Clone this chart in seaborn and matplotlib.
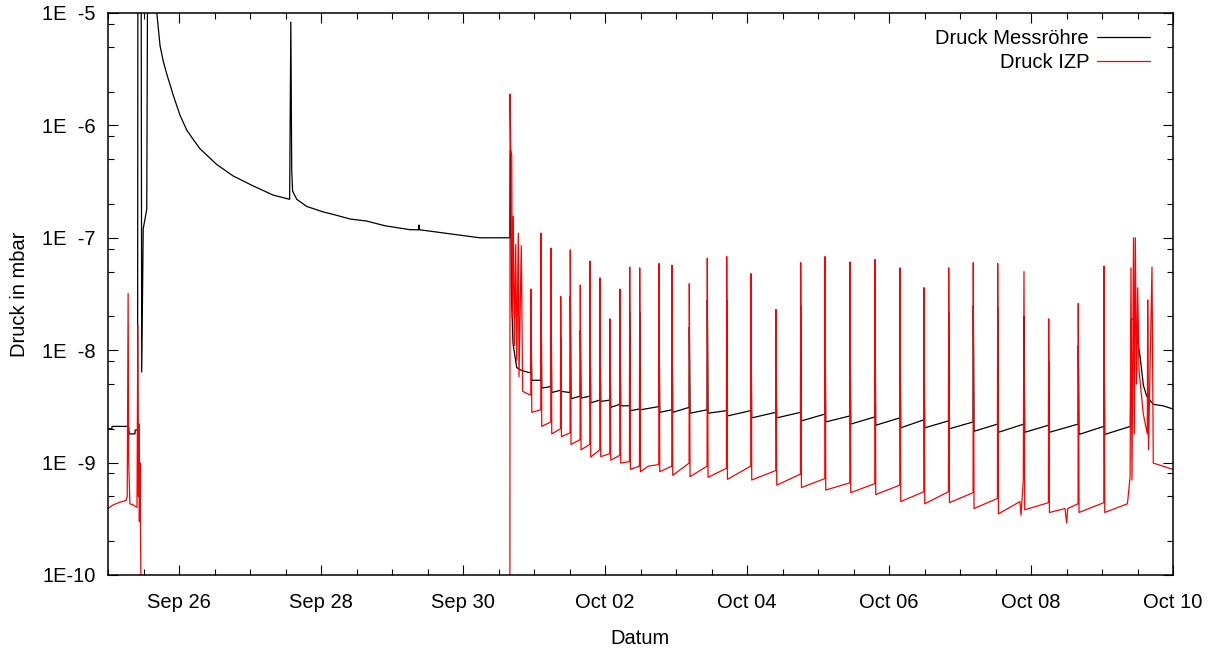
import numpy as np
import pandas as pd
import matplotlib
matplotlib.use("Agg")
import matplotlib.pyplot as plt
import matplotlib.dates as mdates
import matplotlib.ticker as mticker
import seaborn as sns

# ---------------- data (hours since Sep 25 00:00, pressure in mbar) ----------------
start_date = "2015-09-25 00:00"

black_hours = [
    0.0, 1.3, 1.4, 6.9, 7.2, 9.1, 9.2, 10.0, 10.1, 11.2, 11.4, 11.9, 13.1, 13.4,
    16.5, 17.6, 18.7, 19.8, 22.1, 24.3, 26.6, 28.8, 31.1, 36.7, 42.3, 49.0, 55.8,
    61.4, 61.8, 62.1, 62.4, 63.8, 67.2, 72.7, 76.7, 81.8, 87.4, 93.6, 102.1, 105.0,
    105.1, 105.2, 115.0, 125.7, 135.8, 136.0, 136.4, 136.9, 138.15, 139.84, 142.65,
    142.94, 143.0, 143.25, 146.31, 146.37, 146.62, 149.69, 149.75, 150.0, 152.97,
    153.03, 153.28, 156.21, 156.27, 156.52, 159.59, 159.65, 159.9, 162.87, 162.93,
    163.18, 166.25, 166.31, 166.56, 169.63, 169.69, 169.94, 173.01, 173.07, 173.32,
    176.29, 176.35, 176.6, 179.67, 179.73, 179.98, 186.2, 186.26, 186.51, 190.59,
    190.65, 190.9, 196.44, 196.5, 196.75, 202.52, 202.58, 202.83, 209.08, 209.14,
    209.39, 217.29, 217.35, 217.6, 225.74, 225.8, 226.05, 234.09, 234.15, 234.4,
    242.31, 242.37, 242.62, 250.76, 250.82, 251.07, 259.21, 259.27, 259.52, 267.66,
    267.72, 267.97, 275.77, 275.83, 276.08, 284.12, 284.18, 284.43, 292.43, 292.49,
    292.74, 300.68, 300.74, 300.99, 309.57, 309.63, 309.88, 317.92, 317.98, 318.23,
    327.92, 327.98, 328.23, 336.62, 336.68, 336.93, 345.6, 345.8, 346.7, 347.6,
    348.9, 349.97, 351.1, 353.34, 356.62, 360.0,
]
black_mbar = [
    2.0e-9, 2.0e-9, 2.1e-9, 2.1e-9, 1.8e-9, 1.8e-9, 1.95e-9, 1.95e-9, 3e-5, 3e-5,
    6.4e-9, 1.2e-7, 1.8e-7, 3e-5, 1.0e-5, 5.1e-6, 3.7e-6, 2.9e-6, 1.84e-6, 1.24e-6,
    9.1e-7, 7.5e-7, 6.2e-7, 4.5e-7, 3.55e-7, 2.9e-7, 2.4e-7, 2.2e-7, 8.3e-6, 4e-7,
    2.6e-7, 2.2e-7, 1.9e-7, 1.7e-7, 1.6e-7, 1.47e-7, 1.41e-7, 1.28e-7, 1.18e-7,
    1.18e-7, 1.3e-7, 1.18e-7, 1.09e-7, 1.0e-7, 1.0e-7, 6e-7, 3e-8, 1.15e-8, 7.0e-9,
    6.6e-9, 6.3e-9,
    6.3e-9, 1.5e-8, 5.4e-9, 5.4e-9, 4e-8, 4.6e-9, 4.75e-9, 3e-8, 4.2e-9, 4.4e-9,
    1.3e-8, 4.3e-9, 4.2e-9, 3e-8, 3.7e-9, 3.9e-9, 1.5e-8, 3.75e-9, 3.9e-9, 2.5e-8,
    3.4e-9, 3.6e-9, 1.8e-8, 3.5e-9, 3.6e-9, 9e-9, 3.1e-9, 3.3e-9, 1.5e-8, 3.2e-9,
    3.2e-9, 2.2e-8, 2.9e-9, 3.0e-9, 2.2e-8, 2.95e-9, 3.15e-9, 2.4e-8, 2.8e-9, 2.95e-9,
    2.4e-8, 2.8e-9, 3.1e-9, 1.6e-8, 2.75e-9, 2.95e-9, 2.8e-8, 2.75e-9, 2.9e-9, 2.8e-8,
    2.6e-9, 2.9e-9, 2e-8, 2.5e-9, 2.8e-9, 1e-8, 2.5e-9, 2.8e-9, 2.5e-8, 2.35e-9,
    2.7e-9, 2.8e-8, 2.3e-9, 2.6e-9, 2.5e-8, 2.2e-9, 2.55e-9, 2.6e-8, 2.15e-9, 2.5e-9,
    2.2e-8, 2.04e-9, 2.4e-9, 1.5e-8, 2.04e-9, 2.35e-9, 2.2e-8, 2.0e-9, 2.3e-9, 2.5e-8,
    1.9e-9, 2.2e-9, 2.4e-8, 1.86e-9, 2.2e-9, 2e-8, 1.86e-9, 2.15e-9, 8e-9, 1.86e-9,
    2.2e-9, 1.1e-8, 1.78e-9, 2.1e-9, 2.3e-8, 1.78e-9, 2.1e-9, 1.9e-8, 1.9e-8, 1.4e-8,
    8.7e-9, 4.9e-9, 3.9e-9, 3.3e-9, 3.2e-9, 3.0e-9,
]

red_hours = [
    0.0, 1.7, 4.1, 6.1, 6.5, 6.8, 7.0, 7.4, 8.5, 9.8, 10.1, 10.3, 10.5, 10.6, 10.8,
    11.0, 11.2, 135.85, 135.9, 136.13, 136.47, 136.67, 137.0, 137.35, 137.82, 138.15,
    138.7, 138.93, 139.7, 140.17, 142.65, 142.92,
    143.0, 143.25, 146.29, 146.37, 146.62, 149.67, 149.75, 150.0, 152.95, 153.03,
    153.28, 156.19, 156.27, 156.52, 159.57, 159.65, 159.9, 162.85, 162.93, 163.18,
    166.23, 166.31, 166.56, 169.61, 169.69, 169.94, 172.99, 173.07, 173.32, 176.27,
    176.35, 176.6, 179.65, 179.73, 179.98, 182.64, 186.18, 186.26, 186.51, 190.57,
    190.65, 190.9, 196.42, 196.5, 196.75, 202.5, 202.58, 202.83, 209.06, 209.14,
    209.39, 217.27, 217.35, 217.6, 225.72, 225.8, 226.05, 234.07, 234.15, 234.4,
    242.29, 242.37, 242.62, 250.74, 250.82, 251.07, 259.19, 259.27, 259.52, 267.64,
    267.72, 267.97, 275.75, 275.83, 276.08, 284.1, 284.18, 284.43, 292.41, 292.49,
    292.74, 300.66, 300.74, 300.99, 308.28, 308.62, 309.4, 309.63, 309.88, 317.9,
    317.98, 318.23, 323.49, 324.06, 324.4, 327.9, 327.98, 328.23, 336.6, 336.68,
    336.93, 344.6, 345.5, 345.8, 346.14, 346.65, 346.92, 347.26, 347.67, 348.07,
    348.51, 349.97, 351.32, 351.45, 351.72, 352.9, 353.34, 356.62, 360.0,
]
red_mbar = [
    3.9e-10, 4.2e-10, 4.45e-10, 4.6e-10, 5.0e-10, 3.2e-8, 1.0e-9, 4.3e-10, 4.2e-10,
    4.0e-10, 1.66e-8, 5.0e-10, 2.2e-9, 3.0e-10, 1.0e-9, 2.5e-10, 5e-11, 5e-11, 1.9e-6,
    6.2e-7, 5.4e-7, 1.95e-8, 1.55e-7, 1.1e-8, 8.7e-8, 8.1e-9, 1.1e-7, 5.8e-9, 8.5e-8,
    4.3e-9, 4.0e-9, 4.0e-9,
    3.5e-8, 2.8e-9, 2.95e-9, 1.1e-7, 2.1e-9, 2.3e-9, 8.1e-8, 1.8e-9, 2.0e-9, 3.0e-8,
    1.7e-9, 1.84e-9, 7.8e-8, 1.45e-9, 1.6e-9, 3.8e-8, 1.3e-9, 1.45e-9, 6.2e-8, 1.12e-9,
    1.3e-9, 4.4e-8, 1.13e-9, 1.2e-9, 1.9e-8, 1.05e-9, 1.16e-9, 3.5e-8, 9.9e-10, 1.02e-9,
    5.5e-8, 8.7e-10, 9.3e-10, 5.4e-8, 8.3e-10, 9.3e-10, 9.6e-10, 5.9e-8, 8.3e-10, 9.3e-10,
    5.7e-8, 7.7e-10, 9.9e-10, 3.9e-8, 7.5e-10, 9.3e-10, 6.6e-8, 7.4e-10, 8.9e-10, 6.8e-8,
    7.1e-10, 9.3e-10, 4.8e-8, 7.0e-10, 8.5e-10, 2.3e-8, 6.3e-10, 7.9e-10, 6.0e-8, 6.0e-10,
    7.2e-10, 6.8e-8, 5.7e-10, 6.6e-10, 6.1e-8, 5.4e-10, 6.5e-10, 6.4e-8, 5.2e-10, 6.3e-10,
    5.4e-8, 4.5e-10, 5.5e-10, 3.6e-8, 4.3e-10, 5.5e-10, 5.4e-8, 4.4e-10, 5.4e-10, 6.0e-8,
    3.9e-10, 4.8e-10, 5.9e-8, 3.5e-10, 4.5e-10, 3.4e-10, 7.0e-10, 5.0e-8, 3.8e-10, 4.4e-10,
    1.9e-8, 3.6e-10, 3.9e-10, 2.9e-10, 3.9e-10, 4.3e-10, 2.6e-8, 3.6e-10, 4.4e-10, 5.6e-8,
    3.6e-10, 4.3e-10, 7.5e-10, 5.4e-8, 7e-10, 1e-7, 1.8e-9, 1e-7, 5e-9, 3.6e-8,
    6.6e-9, 2.7e-9, 1.8e-9, 2.8e-8, 1.3e-9, 5.5e-8, 9.9e-10, 9.3e-10, 8.7e-10,
]

series_names = ["Druck Messröhre", "Druck IZP"]
series_colors = ["#000000", "#ff0000"]
ytick_values = [1e-10, 1e-9, 1e-8, 1e-7, 1e-6, 1e-5]
ytick_labels = ["1E-10", "1E  -9", "1E  -8", "1E  -7", "1E  -6", "1E  -5"]
x_label = "Datum"
y_label = "Druck in mbar"

# ---------------- build frames ----------------
t0 = pd.Timestamp(start_date)
df_black = pd.DataFrame({"Zeit": t0 + pd.to_timedelta(black_hours, unit="h"),
                         "Druck": black_mbar})
df_red = pd.DataFrame({"Zeit": t0 + pd.to_timedelta(red_hours, unit="h"),
                       "Druck": red_mbar})

sns.set_style("ticks")
plt.rcParams["font.family"] = ["Liberation Sans", "DejaVu Sans"]
FS = 14.5
plt.rcParams["font.size"] = FS
plt.rcParams["text.color"] = "black"
plt.rcParams["axes.labelcolor"] = "black"
plt.rcParams["xtick.color"] = "black"
plt.rcParams["ytick.color"] = "black"

fig = plt.figure(figsize=(12.1, 6.5), dpi=100)
ax = fig.add_axes([108 / 1210, 1 - 575 / 650, (1173 - 108) / 1210, (575 - 13) / 650])

sns.lineplot(data=df_black, x="Zeit", y="Druck", ax=ax, color=series_colors[0],
             lw=0.9, estimator=None, sort=False, label=series_names[0])
sns.lineplot(data=df_red, x="Zeit", y="Druck", ax=ax, color=series_colors[1],
             lw=0.9, estimator=None, sort=False, label=series_names[1])

ax.set_yscale("log")
ax.set_ylim(1e-10, 1e-5)
ax.set_xlim(t0, t0 + pd.Timedelta(days=15))

ax.yaxis.set_major_locator(mticker.FixedLocator(ytick_values))
ax.yaxis.set_major_formatter(mticker.FixedFormatter(ytick_labels))
ax.yaxis.set_minor_locator(mticker.LogLocator(base=10, subs=[2, 5, 8], numticks=20))
ax.yaxis.set_minor_formatter(mticker.NullFormatter())

ax.xaxis.set_major_locator(mdates.DayLocator(bymonthday=[26, 28, 30, 2, 4, 6, 8, 10]))
ax.xaxis.set_major_formatter(mdates.DateFormatter("%b %d"))
ax.xaxis.set_minor_locator(mdates.HourLocator(byhour=[0, 12]))

ax.tick_params(which="both", direction="in", top=True, right=True, colors="black",
               labelsize=FS)
ax.tick_params(which="major", length=7, width=0.8)
ax.tick_params(which="minor", length=4, width=0.8)
ax.tick_params(axis="x", which="major", pad=13)
ax.tick_params(axis="y", which="major", pad=9)

for s in ax.spines.values():
    s.set_visible(True)
    s.set_linewidth(1.1)
    s.set_color("black")

ax.set_xlabel(x_label, fontsize=FS, labelpad=12, color="black")
ax.set_ylabel(y_label, fontsize=FS, labelpad=9, color="black")
ax.grid(False)

leg = ax.legend(loc="upper right", frameon=False, markerfirst=False,
                handlelength=2.6, handletextpad=0.4, labelspacing=0.22,
                borderaxespad=0.0, bbox_to_anchor=(0.9855, 0.985), fontsize=FS,
                labelcolor="black")
for col in leg._legend_handle_box.get_children():
    col.align = "right"
for line in leg.get_lines():
    line.set_linewidth(0.9)

fig.savefig("out.png", dpi=100)
